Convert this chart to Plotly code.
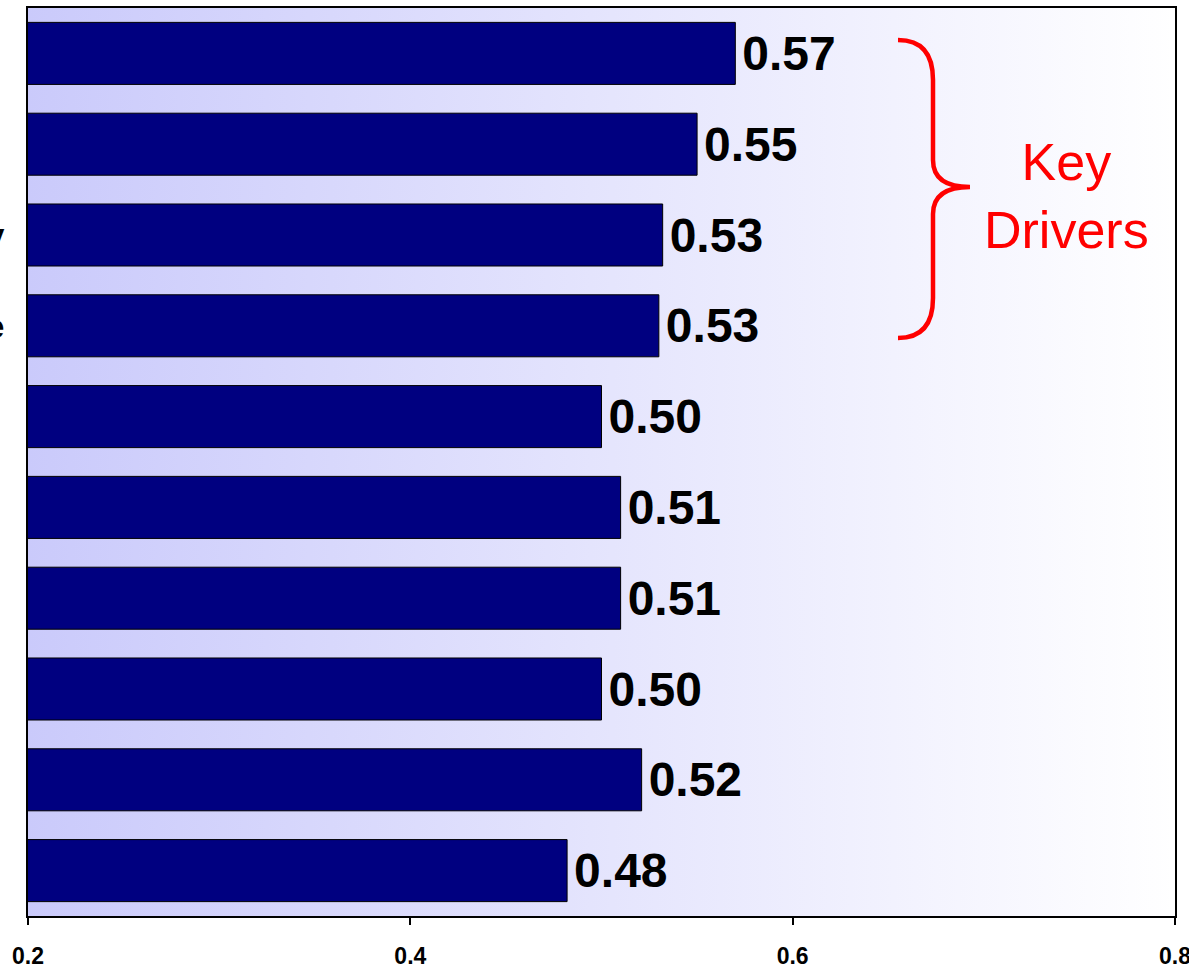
import base64
import plotly.graph_objects as go

# ---- data ----
tick_labels = ["", "", "Quality", "Value", "", "", "", "", "", ""]
positions = [0, 1, 2, 3, 4, 5, 6, 7, 8, 9]
values = [0.57, 0.55, 0.532, 0.530, 0.50, 0.51, 0.51, 0.50, 0.521, 0.482]
x_ticks = [0.2, 0.4, 0.6, 0.8]
x_tick_labels = ["0.2", "0.4", "0.6", "0.8"]

NARROW = "Liberation Sans Narrow, Arial Narrow, Liberation Sans, Arial, sans-serif"
ARIAL = "Liberation Sans, Arial, sans-serif"

fig = go.Figure()
fig.add_trace(go.Bar(
    x=values, y=positions, orientation="h",
    marker=dict(color="#000080", line=dict(color="#000000", width=1)),
    texttemplate="\u200a%{x:.2f}", textposition="outside",
    textfont=dict(family=NARROW, size=48, color="#000000", weight="bold"),
    constraintext="none", cliponaxis=False, hoverinfo="skip",
))

svg = ('<svg xmlns="http://www.w3.org/2000/svg" width="200" height="20" preserveAspectRatio="none">'
       '<defs><linearGradient id="g" x1="0" x2="1" y1="0" y2="0">'
       '<stop offset="0" stop-color="#CACAFB"/><stop offset="1" stop-color="#FFFFFF"/>'
       '</linearGradient></defs><rect width="200" height="20" fill="url(#g)"/></svg>')
src = "data:image/svg+xml;base64," + base64.b64encode(svg.encode()).decode()

W, H = 1189, 970
L, R, T, B = 28, 14, 8, 54
pw, ph = W - L - R, H - T - B

def px(x):
    return (x - L) / pw

def py(y):
    return (H - B - y) / ph

brace = (f"M {px(898)},{py(40)} Q {px(933)},{py(40)} {px(933)},{py(80)} "
         f"L {px(933)},{py(160)} Q {px(933)},{py(187)} {px(970)},{py(187)} "
         f"Q {px(933)},{py(187)} {px(933)},{py(214)} "
         f"L {px(933)},{py(298)} Q {px(933)},{py(338)} {px(898)},{py(338)}")

fig.update_layout(
    width=W, height=H,
    margin=dict(l=L, r=R, t=T, b=B, autoexpand=False),
    paper_bgcolor="#FFFFFF", plot_bgcolor="rgba(0,0,0,0)",
    showlegend=False, bargap=0.317,
    images=[dict(source=src, xref="paper", yref="paper", x=0, y=1, sizex=1, sizey=1,
                 xanchor="left", yanchor="top", sizing="stretch", layer="below")],
    shapes=[dict(type="path", path=brace, xref="paper", yref="paper",
                 line=dict(color="#FF0000", width=4.5), fillcolor="rgba(0,0,0,0)")],
    annotations=[dict(text="Key<br>Drivers", xref="paper", yref="paper",
                      x=px(1066), y=py(196), xanchor="center", yanchor="middle",
                      showarrow=False,
                      font=dict(family=NARROW, size=52, color="#FF0000"))],
    xaxis=dict(range=[0.2, 0.8], tickvals=x_ticks, ticktext=x_tick_labels,
               ticks="outside", ticklen=7, tickcolor="#000000", tickwidth=1.5,
               showgrid=False, zeroline=False, showline=True, linecolor="#000000",
               linewidth=1.5, mirror=True, ticklabelstandoff=12, automargin=False,
               ticklabeloverflow="allow",
               tickfont=dict(family=ARIAL, size=23, color="#000000", weight="bold")),
    yaxis=dict(range=[9.5, -0.5], tickvals=positions, ticktext=tick_labels,
               ticks="", showgrid=False, zeroline=False, showline=True,
               linecolor="#000000", linewidth=1.5, mirror=True,
               automargin=False, ticklabelstandoff=15, ticklabeloverflow="allow",
               tickfont=dict(family=ARIAL, size=34, color="#000000", weight="bold")),
)

fig.write_html("out.html", config={"displayModeBar": False},
               post_script="document.body.style.margin='0';document.body.style.overflow='hidden';")
